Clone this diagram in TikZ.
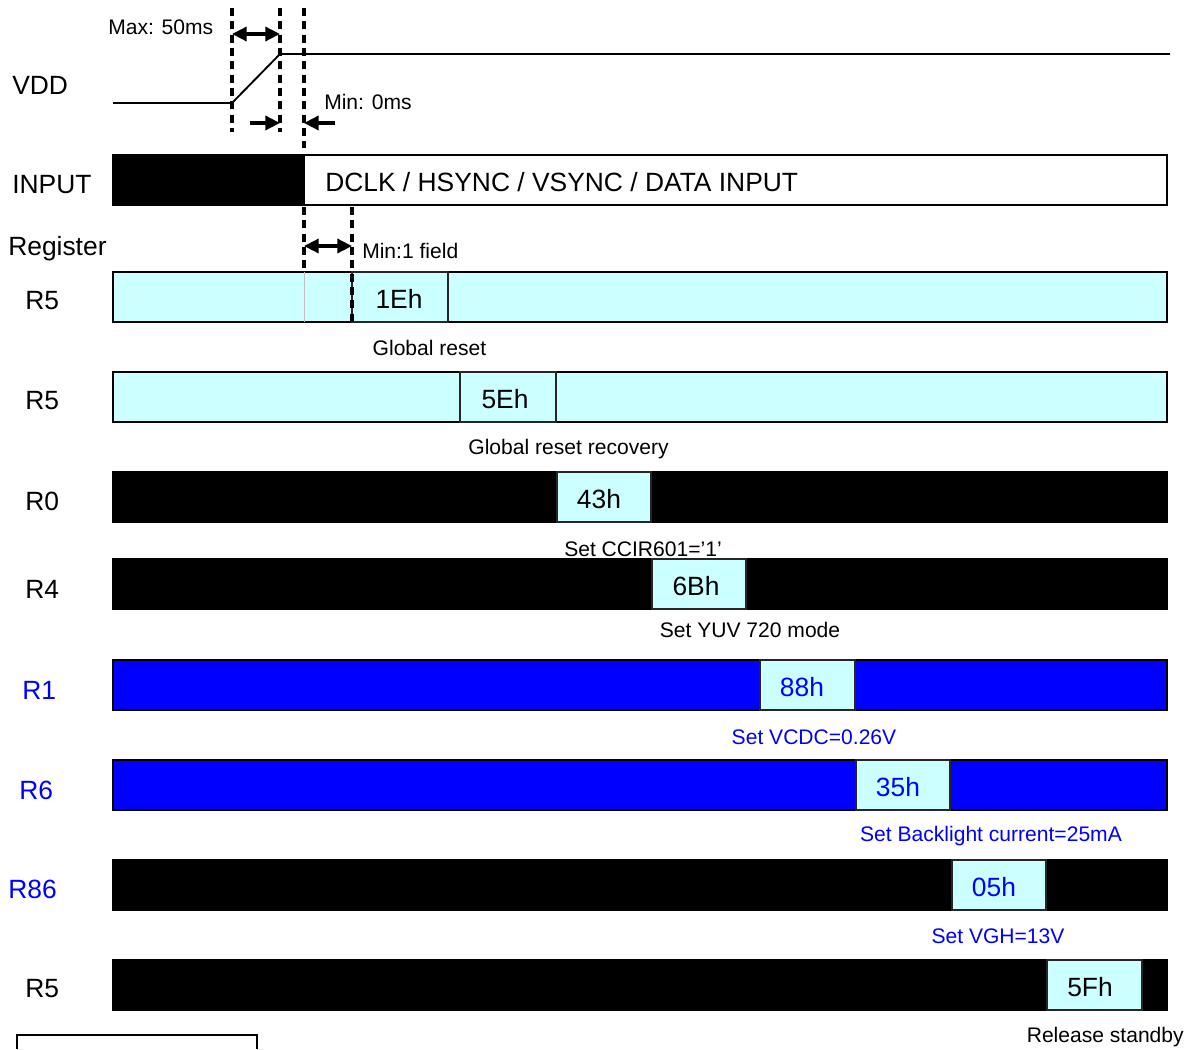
\documentclass[tikz,border=0pt]{standalone}
\usepackage{fontspec}
\setmainfont{Liberation Sans}
\usetikzlibrary{arrows.meta}
\definecolor{lcyan}{HTML}{CCFFFF}
\definecolor{rblue}{HTML}{0000FF}
\tikzset{
 big/.style={font=\fontsize{19.8}{24}\selectfont, inner sep=0pt},
 small/.style={font=\fontsize{15.8}{19}\selectfont, inner sep=0pt},
 barcyan/.style={draw=black, line width=1.4pt, fill=lcyan},
 barblack/.style={draw=black, line width=1.4pt, fill=black},
 barblue/.style={draw=black, line width=1.4pt, fill=rblue},
 cellbox/.style={draw=black!85, line width=1.4pt, fill=lcyan},
 dashv/.style={line width=2.5pt, dash pattern=on 6pt off 4pt},
 dimarrow/.style={line width=2.5pt, -{Triangle[length=11pt,width=10.5pt]}},
 dimboth/.style={line width=2.5pt, {Triangle[length=11pt,width=10.5pt]}-{Triangle[length=11pt,width=10.5pt]}},
 sigline/.style={line width=1.4pt},
}
\begin{document}
\begin{tikzpicture}[x=0.75pt,y=-0.75pt]
\useasboundingbox (0,0) rectangle (1188,1049);

% ---- VDD ----
\node[big, anchor=west] (lvdd) at (12,85) {VDD};
\coordinate (vlow) at (113,103);
\coordinate (vrs) at (232,103);
\coordinate (vre) at (280,54);
\coordinate (vhigh) at (1170,54);
\draw[sigline] (vlow) -- (vrs) -- (vre) -- (vhigh);

% dashed guides
\coordinate (d1t) at (232,8);   \coordinate (d1b) at (232,132);
\coordinate (d2t) at (280,8);   \coordinate (d2b) at (280,132);
\coordinate (d3t) at (304,8);   \coordinate (d3b) at (304,148);
\coordinate (d4t) at (304,207); \coordinate (d4b) at (304,270);
\coordinate (d5t) at (352,207); \coordinate (d5b) at (352,322);

% timing arrows
\coordinate (a1l) at (232,34);  \coordinate (a1r) at (280,34);
\coordinate (a2s) at (250,123); \coordinate (a2e) at (280,123);
\coordinate (a3s) at (335,123); \coordinate (a3e) at (304,123);
\coordinate (a4l) at (304,246); \coordinate (a4r) at (352,246);
\draw[dimboth] (a1l) -- (a1r);
\draw[dimarrow] (a2s) -- (a2e);
\draw[dimarrow] (a3s) -- (a3e);
\draw[dimboth] (a4l) -- (a4r);
\node[small, anchor=west] (tmax) at (108,27) {Max: 50ms};
\node[small, anchor=west] (tmin0) at (324,102) {Min: 0ms};
\node[small, anchor=west] (tmin1) at (362,251) {Min:1 field};

% ---- INPUT ----
\node[big, anchor=west] (linput) at (12,185) {INPUT};
\draw[barblack] (113,155) rectangle (304,205);
\draw[sigline, fill=white] (304,155) rectangle (1167,205);
\node[big, anchor=west] (tinput) at (325,182) {DCLK / HSYNC / VSYNC / DATA INPUT};

\node[big, anchor=west] (lreg) at (8,249) {Register};

% ---- register bars ----
\draw[barcyan]  (113,272) rectangle (1167,322);
\draw[black!25, line width=0.6pt] (304,272) -- (304,322);
\draw[barcyan]  (113,372) rectangle (1167,422);
\draw[barblack] (113,472) rectangle (1167,522);
\draw[barblack] (113,559) rectangle (1167,609);
\draw[barblue]  (113,660) rectangle (1167,710);
\draw[barblue]  (113,760) rectangle (1167,810);
\draw[barblack] (113,860) rectangle (1167,910);
\draw[barblack] (113,960) rectangle (1167,1010);

% cells
\draw[cellbox] (352,272) rectangle (448,322);
\draw[cellbox] (460,372) rectangle (556,422);
\draw[cellbox] (557,472) rectangle (651,522);
\draw[cellbox] (652,559) rectangle (746,609);
\draw[cellbox] (760,660) rectangle (855,710);
\draw[cellbox] (856,760) rectangle (950,810);
\draw[cellbox] (952,860) rectangle (1046,910);
\draw[cellbox] (1047,960) rectangle (1142,1010);

\node[big] (c1) at (399,299) {1Eh};
\node[big] (c2) at (505,399) {5Eh};
\node[big] (c3) at (599,499) {43h};
\node[big] (c4) at (696,586) {6Bh};
\node[big, text=rblue] (c5) at (802,687) {88h};
\node[big, text=rblue] (c6) at (898,787) {35h};
\node[big, text=rblue] (c7) at (994,887) {05h};
\node[big] (c8) at (1090,987) {5Fh};

% row labels
\node[big, anchor=west] (r1) at (25,301) {R5};
\node[big, anchor=west] (r2) at (25,401) {R5};
\node[big, anchor=west] (r3) at (25,501) {R0};
\node[big, anchor=west] (r4) at (25,589) {R4};
\node[big, anchor=west, text=rblue] (r5) at (22,690) {R1};
\node[big, anchor=west, text=rblue] (r6) at (19,790) {R6};
\node[big, anchor=west, text=rblue] (r7) at (8,889) {R86};
\node[big, anchor=west] (r8) at (25,989) {R5};

% descriptions
\node[small] (g1) at (429.5,348) {Global reset};
\node[small] (g2) at (568.5,449) {Global reset recovery};
\node[small] (g3) at (643,549) {Set CCIR601=’1’};
\node[small] (g4) at (750,630) {Set YUV 720 mode};
\node[small, text=rblue] (g5) at (814,737) {Set VCDC=0.26V};
\node[small, text=rblue] (g6) at (991,836) {Set Backlight current=25mA};
\node[small, text=rblue] (g7) at (998,936) {Set VGH=13V};
\node[small, anchor=east] (g8) at (1184,1037) {Release standby};

% dashed lines on top
\draw[dashv] (d1t) -- (d1b);
\draw[dashv] (d2t) -- (d2b);
\draw[dashv] (d3t) -- (d3b);
\draw[dashv] (d4t) -- (d4b);
\draw[dashv] (d5t) -- (d5b);

% bottom-left partial box
\coordinate (bl1) at (17,1049);
\coordinate (bl2) at (17,1035);
\coordinate (bl3) at (257,1035);
\coordinate (bl4) at (257,1049);
\draw[sigline] (bl1) -- (bl2) -- (bl3) -- (bl4);
\end{tikzpicture}
\end{document}
